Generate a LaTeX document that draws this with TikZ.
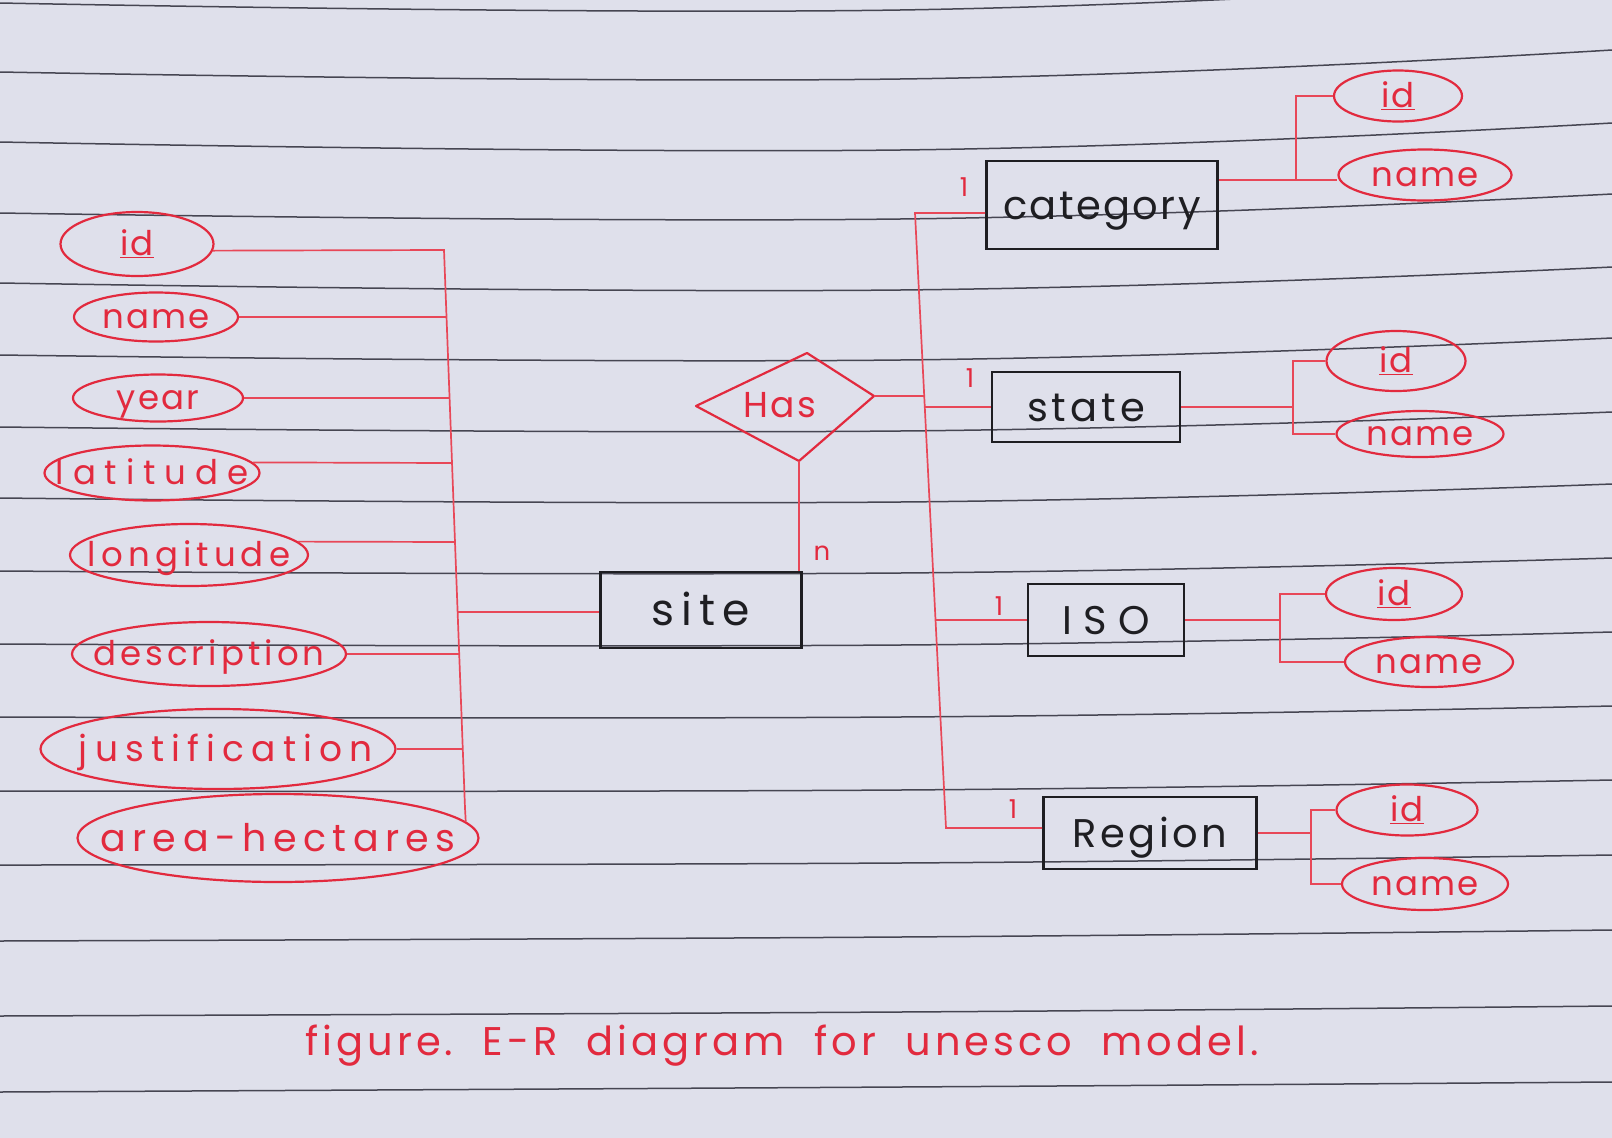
\documentclass[tikz,border=0pt]{standalone}
\usepackage{fontspec}
\setmainfont[LetterSpace=6]{Poppins}
\usetikzlibrary{shapes.geometric,calc}
\definecolor{paper}{RGB}{223,224,235}
\definecolor{rulec}{RGB}{70,70,82}
\definecolor{ink}{RGB}{226,42,62}
\definecolor{inkl}{RGB}{232,72,88}
\definecolor{pen}{RGB}{30,30,34}
\newcommand{\ct}[1]{\makebox[0pt]{\raisebox{-0.35em}[0pt][0pt]{#1}}}
\begin{document}
\begin{tikzpicture}[x=1pt,y=-1pt,
  fs/.style={font=\fontsize{#1}{#1}\selectfont},
  fl/.style 2 args={font=\fontsize{#1}{#1}\selectfont\addfontfeature{LetterSpace=#2}},
  attr/.style={ellipse, draw=ink, line width=2.2pt, text=ink, inner sep=0pt, fs=34},
  ent/.style={rectangle, draw=pen, line width=2.6pt, text=pen, inner sep=0pt, fs=40},
  reldraw/.style={draw=ink, line width=2.2pt, line join=round},
  reltext/.style={text=ink, inner sep=0pt, fs=36},
  conn/.style={draw=inkl, line width=1.7pt},
  card/.style={text=ink, inner sep=0pt, fs=26},
  paperline/.style={draw=rulec, line width=1.5pt}]
\useasboundingbox (0,0) rectangle (1612,1138);
\fill[paper] (0,0) rectangle (1612,1138);
% ruled paper lines
\foreach \l/\m/\r in {3/10/-22, 72/79/50, 142/150/123, 213/219/194, 283/290/267, 355/360/338, 427/431/412, 498/502/484, 571/573/558, 644/645/632, 717/717/706, 791/790/780, 865/863/855, 941/937/930, 1016/1012/1006, 1092/1087/1082}
  \draw[paperline] plot[smooth, tension=0.7] coordinates {(0,\l) (900,\m) (1612,\r)};

% ---------- left attributes ----------
\node[attr, minimum width=153pt, minimum height=64pt] (lid)   at (137,244) {\ct{\underline{id}}};
\node[attr, minimum width=164pt, minimum height=49pt] (lname) at (156,317) {\ct{name}};
\node[attr, minimum width=170pt, minimum height=47pt] (lyear) at (158,398) {\ct{year}};
\node[attr, minimum width=215pt, minimum height=55pt, fl={34}{26}] (llat)  at (152,473) {\ct{latitude}};
\node[attr, minimum width=238pt, minimum height=62pt, fl={34}{15}] (llong) at (189,555) {\ct{longitude}};
\node[attr, minimum width=274pt, minimum height=64pt, fl={34}{12}] (ldesc) at (209,654) {\ct{description}};
\node[attr, minimum width=355pt, minimum height=80pt, fl={36}{20}] (ljust) at (218,749) {\ct{\hspace{16pt}justification}};
\node[attr, minimum width=401pt, minimum height=88pt, fl={38}{17}] (lah)   at (278,838) {\ct{area-hectares}};

% ---------- entities ----------
\node[ent, minimum width=201pt, minimum height=76pt, fl={44}{16}] (site) at (701,610) {\ct{site}};
\node[ent, minimum width=231pt, minimum height=88pt] (cat)  at (1102,205) {\ct{category}};
\node[ent, minimum width=188pt, minimum height=70pt, fl={40}{10}] (st)   at (1086,407) {\ct{state}};
\node[ent, minimum width=156pt, minimum height=72pt, fl={40}{28}] (iso)  at (1106,620) {\ct{ISO}};
\node[ent, minimum width=213pt, minimum height=72pt, fl={40}{9}] (reg)  at (1150,833) {\ct{Region}};

% ---------- relationship ----------
\coordinate (hasW) at (696,406);
\coordinate (hasN) at (807,353);
\coordinate (hasE) at (874,396);
\coordinate (hasS) at (799,461);
\draw[reldraw] (hasW) -- (hasN) -- (hasE) -- (hasS) -- cycle;
\node[reltext] (has) at (780,405) {\ct{Has}};

% ---------- right attributes ----------
\node[attr, minimum width=128pt, minimum height=51pt] (cid)   at (1398,96)  {\ct{\underline{id}}};
\node[attr, minimum width=173pt, minimum height=51pt] (cname) at (1425,175) {\ct{name}};
\node[attr, minimum width=139pt, minimum height=60pt] (sid)   at (1396,361) {\ct{\underline{id}}};
\node[attr, minimum width=167pt, minimum height=46pt] (sname) at (1420,434) {\ct{name}};
\node[attr, minimum width=136pt, minimum height=52pt] (iid)   at (1394,594) {\ct{\underline{id}}};
\node[attr, minimum width=168pt, minimum height=50pt] (iname) at (1429,662) {\ct{name}};
\node[attr, minimum width=141pt, minimum height=51pt] (rid)   at (1407,810) {\ct{\underline{id}}};
\node[attr, minimum width=166pt, minimum height=52pt] (rname) at (1425,884) {\ct{name}};

% ---------- left bus ----------
\coordinate (b1) at (444,250);
\coordinate (b8) at (465,808);
\draw[conn] (lid.-5) -- (b1) -- (b8) -- (lah.5);
\draw[conn] (lname.east) -- (446.9,317);
\draw[conn] (lyear.east) -- (449.9,398);
\draw[conn] (llat.6) -- (452,463);
\draw[conn] (llong.7) -- (455,542);
\draw[conn] (ldesc.east) -- (459.2,654);
\draw[conn] (ljust.east) -- (462.7,749);
\coordinate (bsite) at (458,612);
\draw[conn] (bsite) -- (site.west |- bsite);

% ---------- has to site ----------
\draw[conn] (hasS) -- (hasS |- site.north);
\node[card] (cn) at (822,553) {n};

% ---------- right bus ----------
\coordinate (rTop) at (915,213);
\coordinate (rBot) at (946,828);
\draw[conn] (cat.west |- rTop) -- (rTop) -- (rBot) -- (reg.west |- rBot);
\coordinate (rHas) at (923.5,396);
\draw[conn] (hasE) -- (rHas);
\coordinate (rSt) at (924.8,407);
\draw[conn] (rSt) -- (st.west);
\coordinate (rIso) at (935.5,620);
\draw[conn] (rIso) -- (iso.west);
\node[card] (c1) at (964,187) {1};
\node[card] (c2) at (970,378) {1};
\node[card] (c3) at (999,606) {1};
\node[card] (c4) at (1013,809) {1};

% ---------- right attribute connectors ----------
\coordinate (cj) at (1296,180);
\draw[conn] (cat.east |- cj) -- (cj);
\draw[conn] (cid.west) -| (cj) -- (cname.west |- cj);
\coordinate (sj) at (1293,407);
\draw[conn] (st.east) -- (sj);
\draw[conn] (sid.west) -| (sj) |- (sname.west);
\coordinate (ij) at (1280,620);
\draw[conn] (iso.east) -- (ij);
\draw[conn] (iid.west) -| (ij) |- (iname.west);
\coordinate (rj) at (1311,833);
\draw[conn] (reg.east) -- (rj);
\draw[conn] (rid.west) -| (rj) |- (rname.west);

% ---------- caption ----------
\node[text=ink, inner sep=0pt, fl={40}{10}] (cap) at (782,1046) {figure.\ \ E-R\ \ diagram\ \ for\ \ unesco\ \ model.};
\end{tikzpicture}
\end{document}
